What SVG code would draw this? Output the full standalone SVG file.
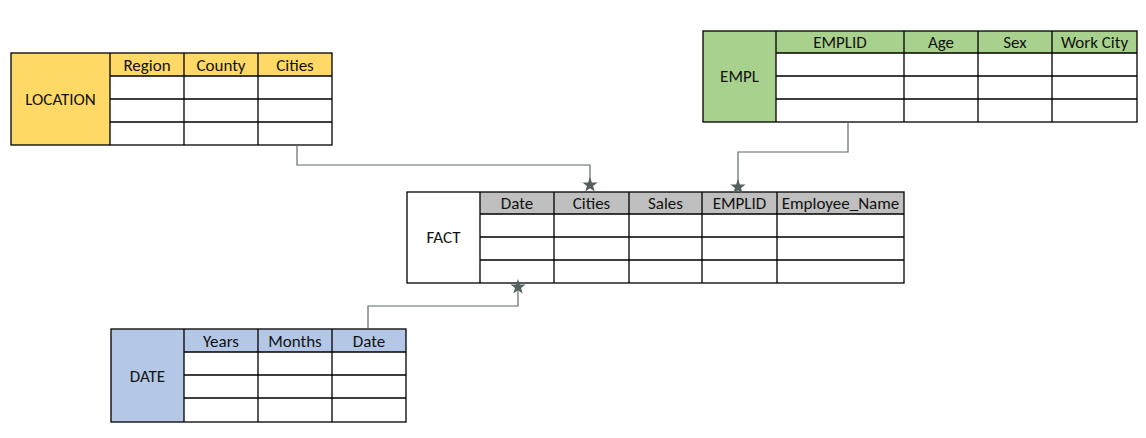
<svg xmlns="http://www.w3.org/2000/svg" xmlns:xlink="http://www.w3.org/1999/xlink" width="1146" height="438" viewBox="0 0 1146 438">
<style>
text{font-family:"Carlito","Liberation Sans","Noto Sans",sans-serif;font-size:17px;fill:#111;text-anchor:middle;dominant-baseline:central}
.g{stroke:#000;stroke-width:1.3;fill:none}
.c{stroke:#5f6b6b;stroke-width:1.2;fill:none}
.s{fill:#555f5f}
</style>
<defs>
<path id="star" d="M0,-8 L1.9,-2.6 L7.6,-2.5 L3.05,1 L4.7,6.5 L0,3.2 L-4.7,6.5 L-3.05,1 L-7.6,-2.5 L-1.9,-2.6 Z"/>
</defs>
<rect width="1146" height="438" fill="#fff"/>

<g id="location">
<rect x="11" y="53" width="99" height="92" fill="#FFD966"/>
<rect x="110" y="53" width="222" height="23" fill="#FFD966"/>
<rect x="110" y="76" width="222" height="69" fill="#fff"/>
<rect class="g" x="11" y="53" width="321" height="92"/>
<path class="g" d="M110,53V145M184,53V145M258,53V145M110,76H332M110,99H332M110,122H332"/>
<text x="60.5" y="99">LOCATION</text>
<text x="147" y="65">Region</text>
<text x="221" y="65">County</text>
<text x="295" y="65">Cities</text>
</g>

<g id="empl">
<rect x="703" y="31" width="73" height="91" fill="#A9D18E"/>
<rect x="776" y="31" width="361" height="22" fill="#A9D18E"/>
<rect x="776" y="53" width="361" height="69" fill="#fff"/>
<rect class="g" x="703" y="31" width="434" height="91"/>
<path class="g" d="M776,31V122M904,31V122M978,31V122M1052,31V122M776,53H1137M776,76H1137M776,99H1137"/>
<text x="739.5" y="76">EMPL</text>
<text x="840" y="42">EMPLID</text>
<text x="941" y="42">Age</text>
<text x="1015" y="42">Sex</text>
<text x="1094.5" y="42">Work City</text>
</g>

<g id="fact">
<rect x="407" y="192" width="73" height="91" fill="#fff"/>
<rect x="480" y="192" width="424" height="22" fill="#BFBFBF"/>
<rect x="480" y="214" width="424" height="69" fill="#fff"/>
<rect class="g" x="407" y="192" width="497" height="91"/>
<path class="g" d="M480,192V283M554,192V283M629,192V283M702,192V283M777,192V283M480,214H904M480,237H904M480,260H904"/>
<text x="443.5" y="237">FACT</text>
<text x="517" y="203">Date</text>
<text x="591.5" y="203">Cities</text>
<text x="665.5" y="203">Sales</text>
<text x="739.5" y="203">EMPLID</text>
<text x="840.5" y="203">Employee_Name</text>
</g>

<g id="date">
<rect x="111" y="329" width="73" height="93" fill="#B4C7E7"/>
<rect x="184" y="329" width="222" height="23" fill="#B4C7E7"/>
<rect x="184" y="352" width="222" height="70" fill="#fff"/>
<rect class="g" x="111" y="329" width="295" height="93"/>
<path class="g" d="M184,329V422M258,329V422M332,329V422M184,352H406M184,375H406M184,398H406"/>
<text x="147.5" y="376">DATE</text>
<text x="221" y="341">Years</text>
<text x="295" y="341">Months</text>
<text x="369" y="341">Date</text>
</g>

<g id="connectors">
<path class="c" d="M297,146V165H590V186"/>
<path class="c" d="M848,123V152H738V188"/>
<path class="c" d="M368,328V306H518V287"/>
<use class="s" href="#star" xlink:href="#star" x="590" y="185"/>
<use class="s" href="#star" xlink:href="#star" x="738" y="187"/>
<use class="s" href="#star" xlink:href="#star" x="518" y="287"/>
</g>
</svg>
